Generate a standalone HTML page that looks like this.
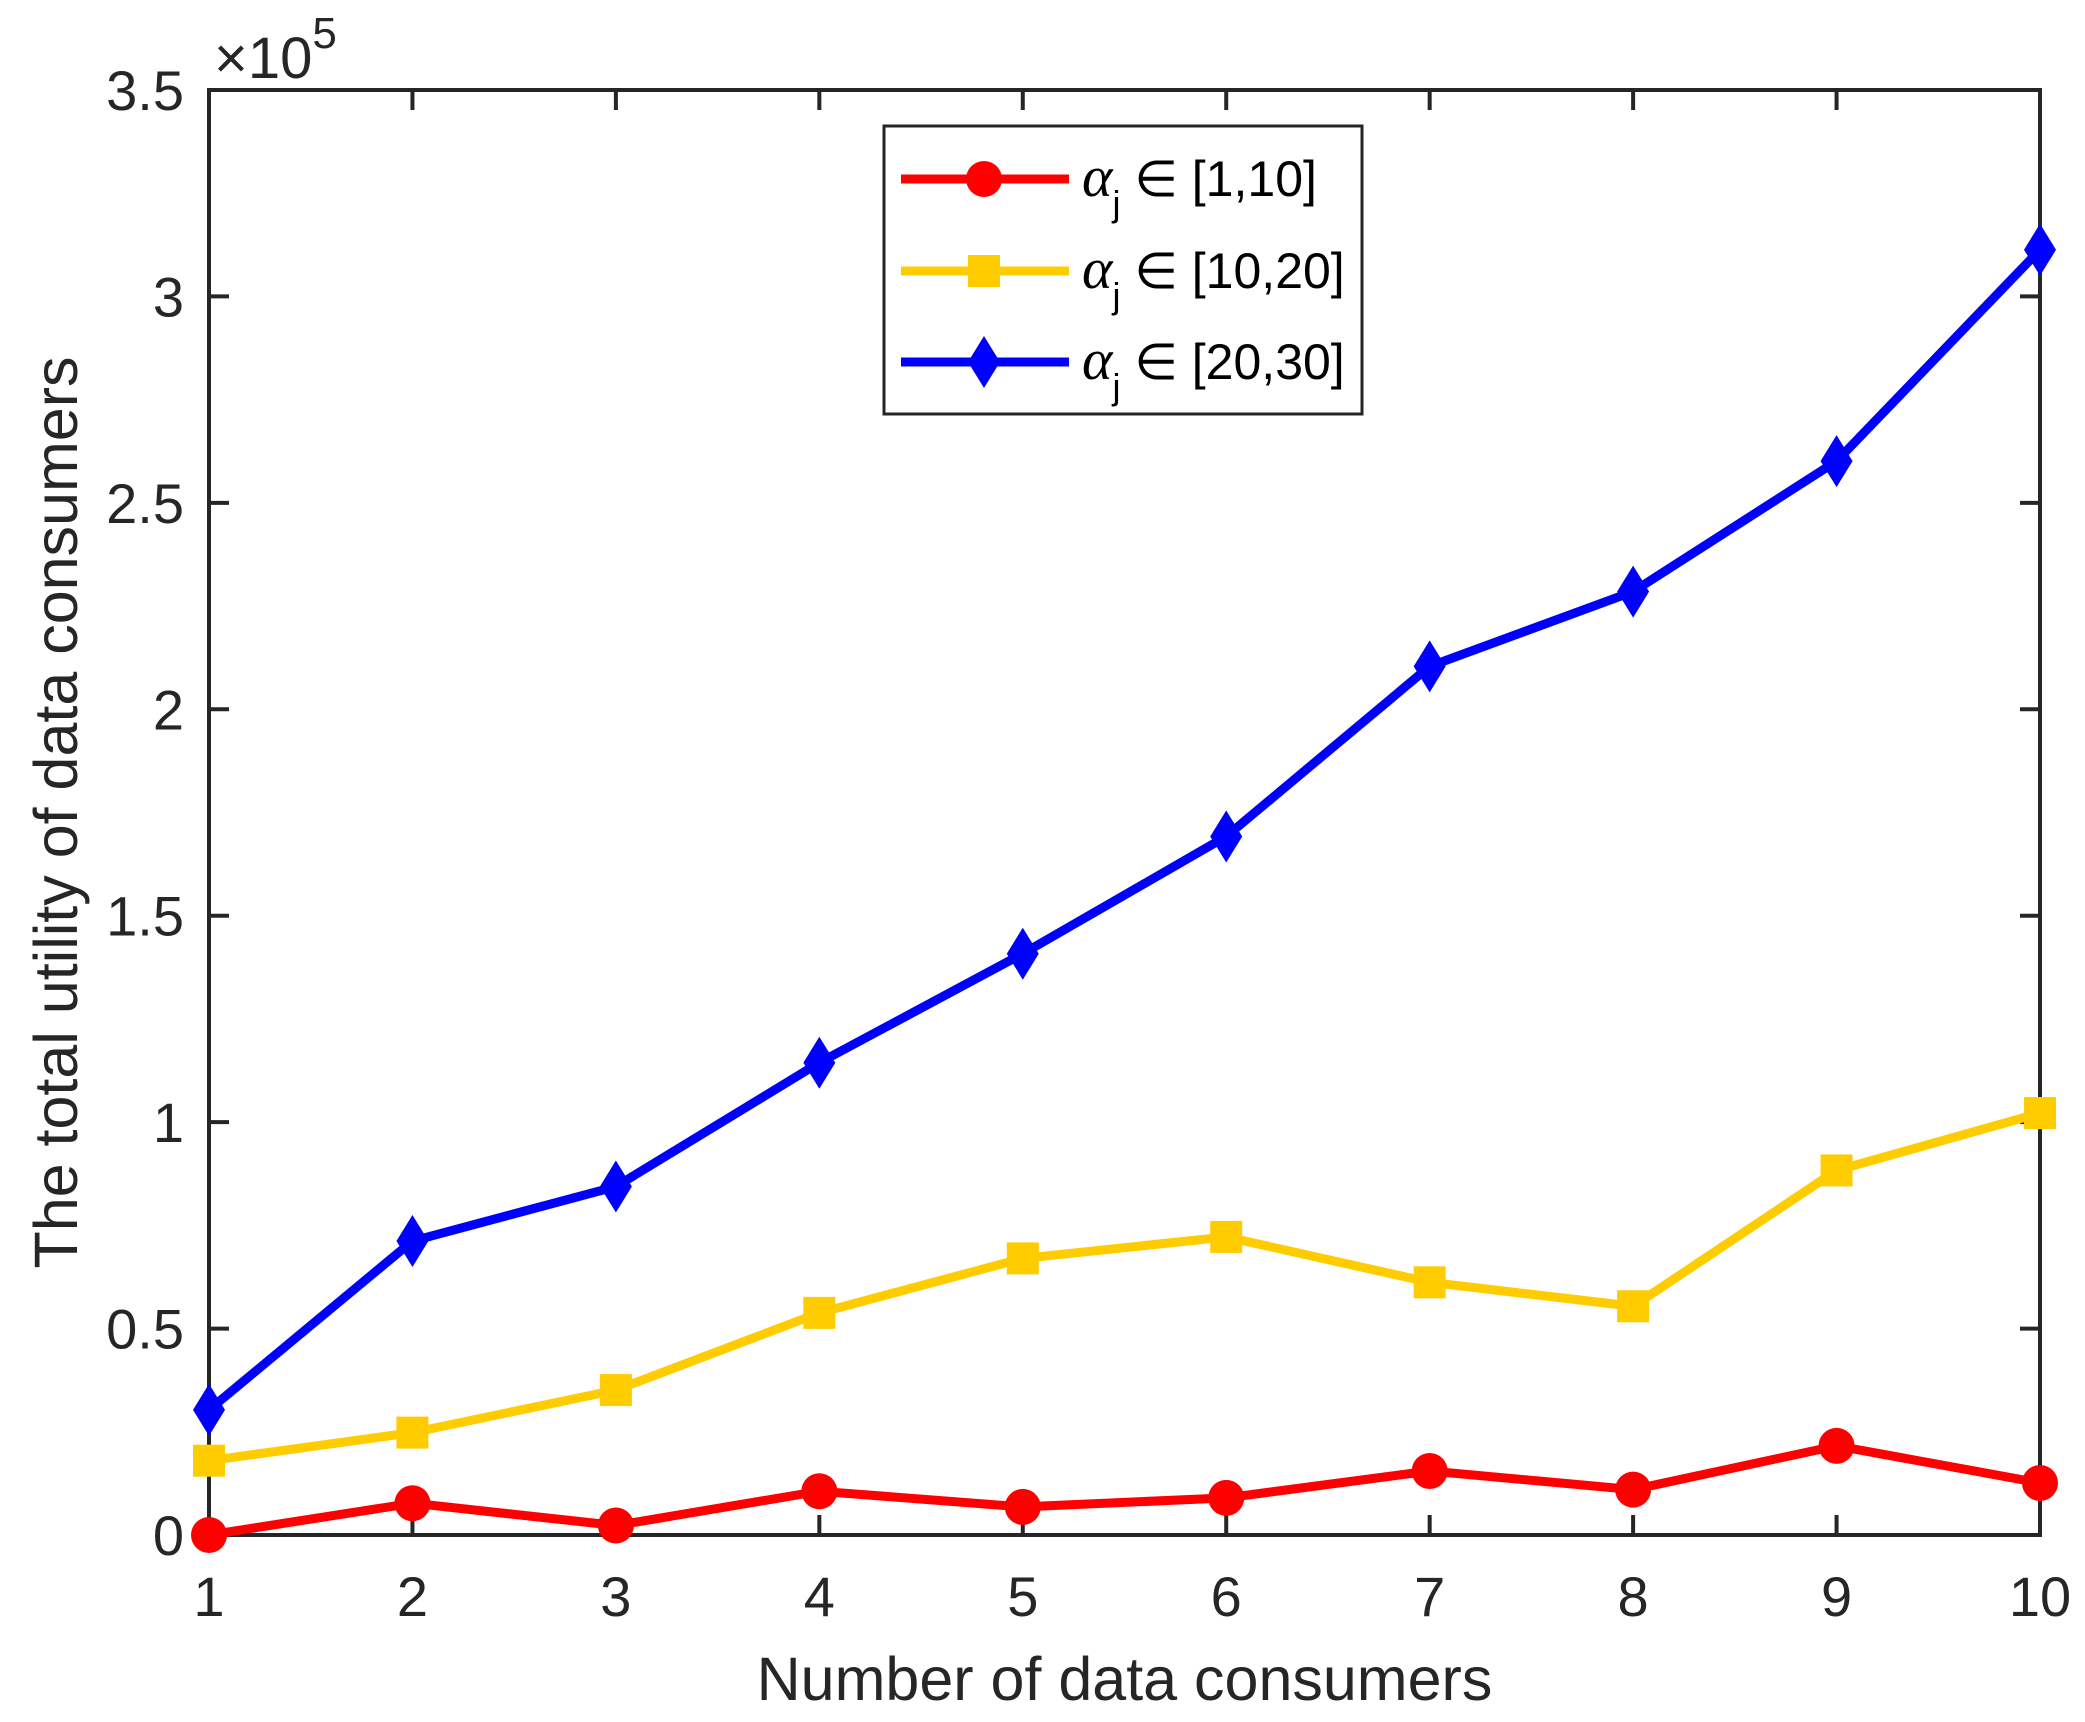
<!DOCTYPE html>
<html><head><meta charset="utf-8"><style>
html,body{margin:0;padding:0;background:#fff;}
svg{display:block;font-family:"Liberation Sans",Arial,sans-serif;}
</style></head><body>
<svg id="chart" width="2085" height="1722" viewBox="0 0 2085 1722" xmlns="http://www.w3.org/2000/svg">
<rect width="2085" height="1722" fill="#fff"/>
<g id="axes"></g>
<g id="series"></g>
<g id="legend"></g>
</svg>
<script>
const categories = [1,2,3,4,5,6,7,8,9,10];
const redValues = [0.0, 0.077, 0.023, 0.106, 0.068, 0.090, 0.155, 0.110, 0.216, 0.126];
const yellowValues = [0.18, 0.248, 0.351, 0.538, 0.670, 0.722, 0.612, 0.554, 0.883, 1.022];
const blueValues = [0.303, 0.712, 0.844, 1.144, 1.408, 1.692, 2.104, 2.285, 2.601, 3.113];
const yTicks = [0, 0.5, 1, 1.5, 2, 2.5, 3, 3.5];
const yTickLabels = ["0","0.5","1","1.5","2","2.5","3","3.5"];
const legendLabels = ["[1,10]","[10,20]","[20,30]"];

const NS="http://www.w3.org/2000/svg";
const L=209,R=2040,T=90,B=1535;
function xs(v){return L+(v-1)/9*(R-L);}
function ys(v){return B-v/3.5*(B-T);}
function mk(tag,attrs,parent){const e=document.createElementNS(NS,tag);for(const k in attrs)e.setAttribute(k,attrs[k]);parent.appendChild(e);return e;}
const axes=document.getElementById('axes'),ser=document.getElementById('series'),leg=document.getElementById('legend');
const ac="#262626";

let box=mk('rect',{x:L,y:T,width:R-L,height:B-T,fill:'none',stroke:ac,'stroke-width':4},axes);



categories.forEach((c)=>{
  const x=xs(c);
  let t1=mk('line',{x1:x,y1:B,x2:x,y2:B-20,stroke:ac,'stroke-width':4},axes);
  
  
  let t2=mk('line',{x1:x,y1:T,x2:x,y2:T+20,stroke:ac,'stroke-width':4},axes);
  
  
  let tl=mk('text',{x:x,y:1616,'font-size':56,fill:ac,'text-anchor':'middle'},axes);
  tl.textContent=String(c);
  
  
});
yTicks.forEach((v,i)=>{
  const y=ys(v);
  let t1=mk('line',{x1:L,y1:y,x2:L+20,y2:y,stroke:ac,'stroke-width':4},axes);
  
  
  let t2=mk('line',{x1:R,y1:y,x2:R-20,y2:y,stroke:ac,'stroke-width':4},axes);
  
  
  let tl=mk('text',{x:184,y:y+20,'font-size':56,fill:ac,'text-anchor':'end'},axes);
  tl.textContent=yTickLabels[i];
  
  
});
let ex=mk('text',{x:214,y:78,'font-size':58,fill:ac},axes);
ex.innerHTML='×10<tspan dy="-30" font-size="44">5</tspan>';


let xl=mk('text',{x:(L+R)/2,y:1700,'font-size':61,fill:ac,'text-anchor':'middle'},axes);
xl.textContent='Number of data consumers';


let yl=mk('text',{x:0,y:0,'font-size':61,fill:ac,'text-anchor':'middle',transform:'translate(77,'+((T+B)/2)+') rotate(-90)'},axes);
yl.textContent='The total utility of data consumers';



function marker(type,x,y,color,parent){
  if(type==='circle') return mk('ellipse',{cx:x,cy:y,rx:18,ry:18,fill:color},parent);
  if(type==='square') return mk('rect',{x:x-16,y:y-16,width:32,height:32,fill:color},parent);
  return mk('polygon',{points:`${x},${y-26} ${x+16},${y} ${x},${y+26} ${x-16},${y}`,fill:color},parent);
}
const seriesDefs=[
  {vals:redValues,color:'#ff0000',m:'circle',name:'red'},
  {vals:yellowValues,color:'#ffcc00',m:'square',name:'yellow'},
  {vals:blueValues,color:'#0000ff',m:'diamond',name:'blue'}
];
seriesDefs.forEach(s=>{
  const g=mk('g',{},ser);
  
  
  const pts=s.vals.map((v,i)=>xs(categories[i])+','+ys(v)).join(' ');
  let pl=mk('polyline',{points:pts,fill:'none',stroke:s.color,'stroke-width':9,'stroke-linejoin':'miter'},g);
  
  
  s.vals.forEach((v,i)=>{
    let m=marker(s.m,xs(categories[i]),ys(v),s.color,g);
    
    
  });
});

let lb=mk('rect',{x:884,y:126,width:478,height:288,fill:'#fff',stroke:ac,'stroke-width':3},leg);


const rowsY=[179,271,362];
seriesDefs.forEach((s,i)=>{
  const g=mk('g',{},leg);
  
  
  const y=rowsY[i];
  mk('line',{x1:901,y1:y,x2:1069,y2:y,stroke:s.color,'stroke-width':9},g);
  marker(s.m,984,y,s.color,g);
  let t=mk('text',{x:1082,y:y+17,'font-size':50,fill:'#000'},g);
  t.innerHTML='<tspan font-family="Liberation Serif, serif" font-style="italic" font-size="58">α</tspan><tspan dy="20" font-size="36">j</tspan><tspan dy="-20"> ∈ '+legendLabels[i]+'</tspan>';
  
  
});
</script>
</body></html>
